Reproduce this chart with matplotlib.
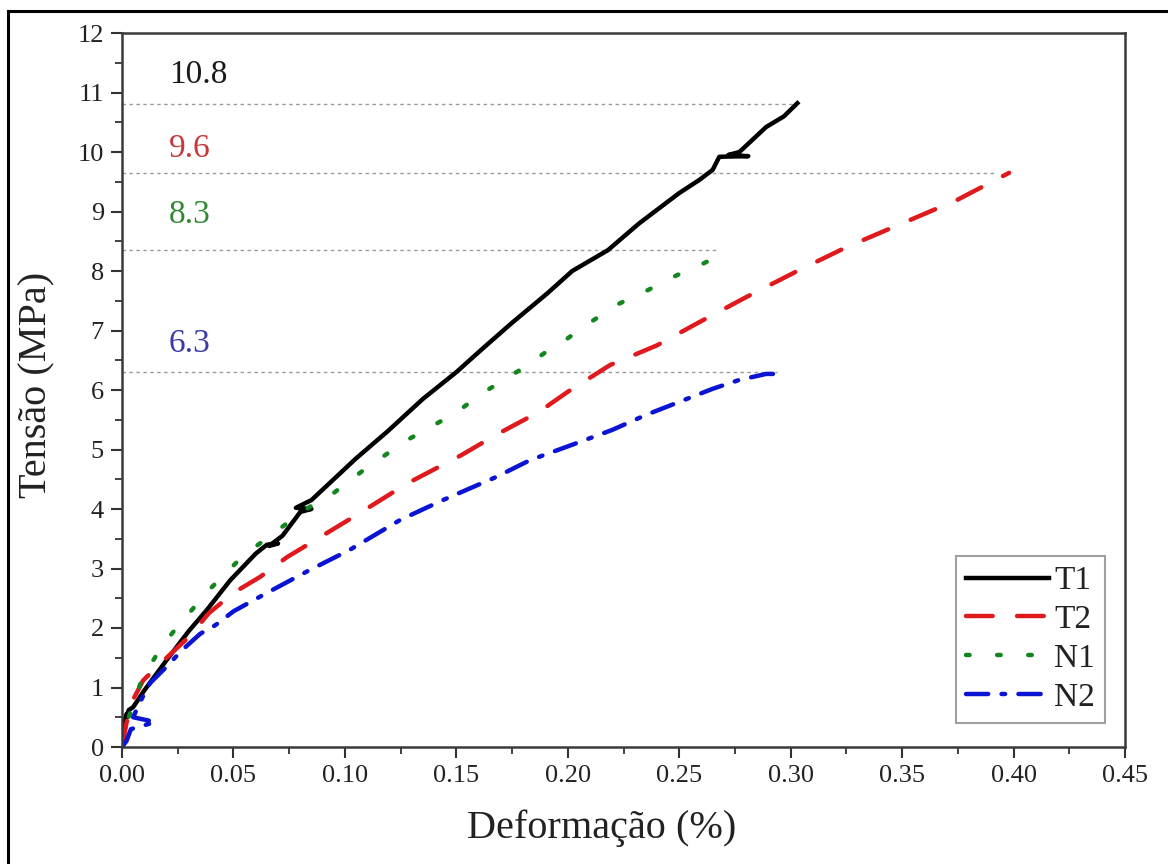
import matplotlib
matplotlib.use("Agg")
import matplotlib.pyplot as plt
from matplotlib.lines import Line2D
from matplotlib.ticker import MultipleLocator, FormatStrFormatter

plt.rcParams['font.family'] = ['Liberation Serif', 'DejaVu Serif']

# ---------------- data ----------------
t1_x = [0.0, 0.001, 0.002, 0.001, 0.003, 0.005, 0.010, 0.020, 0.030, 0.038, 0.0485,
        0.060, 0.065, 0.070, 0.066, 0.072, 0.080, 0.085, 0.078, 0.085, 0.095, 0.105,
        0.119, 0.135, 0.150, 0.161, 0.175, 0.191, 0.202, 0.218, 0.232, 0.250, 0.259,
        0.265, 0.268, 0.281, 0.272, 0.277, 0.289, 0.297, 0.303]
t1_y = [0.0, 0.30, 0.55, 0.40, 0.62, 0.67, 0.95, 1.46, 1.95, 2.30, 2.80,
        3.25, 3.40, 3.42, 3.38, 3.55, 3.95, 4.00, 4.02, 4.15, 4.50, 4.85,
        5.30, 5.85, 6.30, 6.67, 7.13, 7.63, 8.00, 8.35, 8.80, 9.31, 9.53,
        9.70, 9.92, 9.93, 9.95, 10.00, 10.42, 10.60, 10.82]

t2_x = [0.0, 0.002, 0.005, 0.0095, 0.020, 0.030, 0.039, 0.050, 0.062, 0.074, 0.089,
        0.104, 0.128, 0.152, 0.168, 0.187, 0.200, 0.219, 0.240, 0.259, 0.280, 0.303,
        0.325, 0.350, 0.375, 0.398]
t2_y = [0.0, 0.40, 0.80, 1.12, 1.50, 1.85, 2.25, 2.59, 2.86, 3.19, 3.53,
        3.87, 4.43, 4.90, 5.25, 5.63, 5.97, 6.42, 6.75, 7.14, 7.56, 8.00,
        8.40, 8.80, 9.20, 9.65]

n1_x = [0.0, 0.003, 0.0095, 0.020, 0.038, 0.054, 0.070, 0.084, 0.095, 0.110, 0.128,
        0.149, 0.164, 0.180, 0.191, 0.200, 0.211, 0.223, 0.236, 0.249, 0.261, 0.266]
n1_y = [0.0, 0.50, 1.20, 1.80, 2.60, 3.20, 3.65, 4.03, 4.27, 4.70, 5.16,
        5.60, 6.00, 6.37, 6.66, 6.87, 7.16, 7.45, 7.68, 7.93, 8.13, 8.22]

n2_x = [0.0, 0.002, 0.004, 0.015, 0.005, 0.008, 0.0125, 0.020, 0.027, 0.035, 0.042,
        0.050, 0.065, 0.084, 0.102, 0.125, 0.144, 0.168, 0.183, 0.202, 0.220, 0.235,
        0.250, 0.265, 0.277, 0.289, 0.293]
n2_y = [0.0, 0.10, 0.30, 0.42, 0.50, 0.75, 1.07, 1.35, 1.63, 1.90, 2.05,
        2.28, 2.59, 2.97, 3.31, 3.82, 4.15, 4.54, 4.82, 5.08, 5.33, 5.58,
        5.80, 6.02, 6.17, 6.27, 6.27]

series_labels = ['T1', 'T2', 'N1', 'N2']

peak_values = [10.8, 9.65, 8.35, 6.3]
peak_line_ends = [0.303, 0.392, 0.268, 0.294]
peak_texts = ['10.8', '9.6', '8.3', '6.3']
peak_text_y = [11.3, 10.05, 8.95, 6.78]

# ---------------- figure ----------------
fig = plt.figure(figsize=(11.68, 8.64), dpi=100)
ax = fig.add_axes([122/1168, 1 - 747/864, 1003/1168, 714/864])

lw = 3.2
ax.plot(t1_x, t1_y, color='black', lw=lw, solid_joinstyle='round', label=series_labels[0])
ax.plot(t2_x, t2_y, color='#e0191d', lw=lw, dashes=(6.0, 5.5), dash_capstyle='round',
        label=series_labels[1])
ax.plot(n1_x, n1_y, color='#13861d', lw=lw, dashes=(0.8, 6.2), dash_capstyle='round',
        label=series_labels[2])
ax.plot(n2_x, n2_y, color='#0a14d2', lw=lw, dashes=(5.0, 3.0, 0.8, 3.0), dash_capstyle='round',
        label=series_labels[3])

text_colors = ['#1a1a1a', '#c8373a', '#2f8a2f', '#3a3aa8']
for val, xe, txt, ty, c in zip(peak_values, peak_line_ends, peak_texts, peak_text_y, text_colors):
    ax.plot([0, xe], [val, val], color='#9a9a9a', lw=1.0, dashes=(2.5, 2.5), zorder=1)
    ax.text(0.021, ty, txt, color=c, fontsize=24, ha='left', va='center')

ax.set_xlim(0, 0.45)
ax.set_ylim(0, 12)
ax.xaxis.set_major_locator(MultipleLocator(0.05))
ax.xaxis.set_minor_locator(MultipleLocator(0.025))
ax.yaxis.set_major_locator(MultipleLocator(1))
ax.yaxis.set_minor_locator(MultipleLocator(0.5))
ax.xaxis.set_major_formatter(FormatStrFormatter('%.2f'))
ax.yaxis.set_major_formatter(FormatStrFormatter('%d'))

ax.tick_params(which='both', direction='out', top=False, right=False, colors='#333333',
               labelcolor='#222222')
ax.tick_params(which='major', length=8, width=1.5, labelsize=19, pad=5)
ax.tick_params(which='minor', length=5, width=1.3)
for s in ax.spines.values():
    s.set_linewidth(1.8)
    s.set_color('#3a3a3a')

ax.set_xlabel('Deformação (%)', fontsize=29, color='#222222')
ax.set_ylabel('Tensão (MPa)', fontsize=29, color='#222222')
ax.xaxis.set_label_coords(0.478, -0.088)
ax.yaxis.set_label_coords(-0.066, 0.507)

leg = ax.legend(loc='lower right', bbox_to_anchor=(0.980, 0.034), borderaxespad=0,
                fontsize=24, fancybox=False, frameon=True, handlelength=2.5,
                handletextpad=0.15, labelspacing=0.25, borderpad=0.3)
leg.get_frame().set_edgecolor('#888888')
leg.get_frame().set_linewidth(1.5)
for t in leg.get_texts():
    t.set_color('#222222')

# outer frame of the picture
fig.add_artist(Line2D([8/1168, 1.0], [1 - 11/864, 1 - 11/864], color='black', lw=2.2,
                      transform=fig.transFigure))
fig.add_artist(Line2D([8/1168, 8/1168], [0.0, 1 - 11/864], color='black', lw=2.2,
                      transform=fig.transFigure))

fig.savefig('out.png', dpi=100)
